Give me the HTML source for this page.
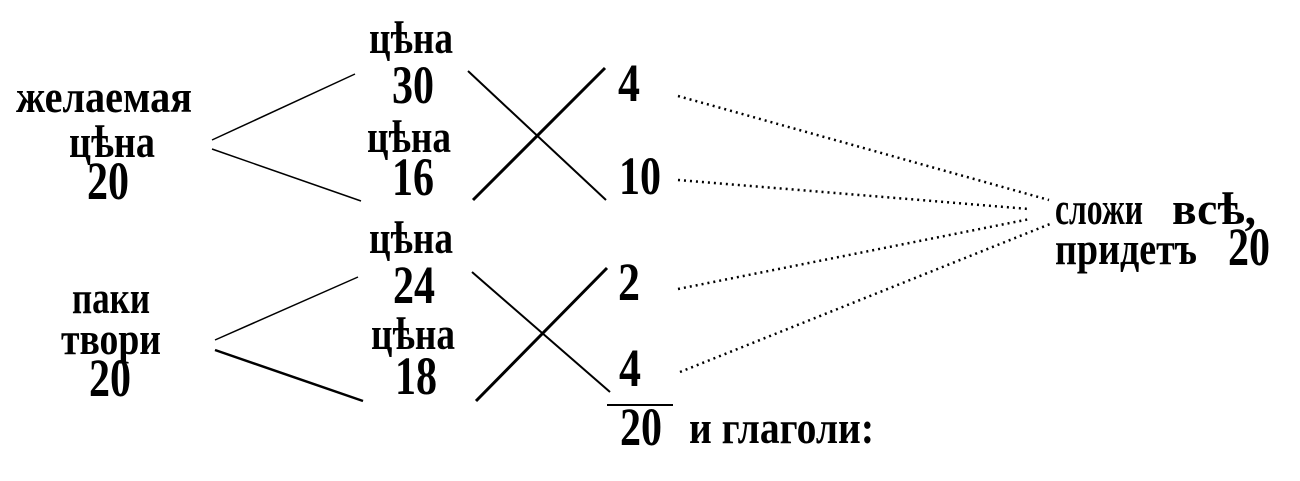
<!DOCTYPE html>
<html><head><meta charset="utf-8"><style>
html,body{margin:0;padding:0;background:#fff;width:1300px;height:481px;overflow:hidden}
text{font-family:"Liberation Serif","DejaVu Serif",serif;font-weight:bold;fill:#000}
</style></head><body>
<svg width="1300" height="481" viewBox="0 0 1300 481" xmlns="http://www.w3.org/2000/svg">
<g font-size="46" text-anchor="middle">
<text x="104" y="112" textLength="176" lengthAdjust="spacingAndGlyphs">желаемая</text>
<text x="112" y="157" textLength="86" lengthAdjust="spacingAndGlyphs">цѣна</text>
<text x="111" y="313" textLength="78" lengthAdjust="spacingAndGlyphs">паки</text>
<text x="111" y="354" textLength="100" lengthAdjust="spacingAndGlyphs">твори</text>
<text x="411" y="53" textLength="84" lengthAdjust="spacingAndGlyphs">цѣна</text>
<text x="409" y="152" textLength="84" lengthAdjust="spacingAndGlyphs">цѣна</text>
<text x="411" y="253" textLength="84" lengthAdjust="spacingAndGlyphs">цѣна</text>
<text x="413" y="349" textLength="84" lengthAdjust="spacingAndGlyphs">цѣна</text>
</g>
<g font-size="54" text-anchor="middle">
<text x="108" y="199" textLength="42" lengthAdjust="spacingAndGlyphs">20</text>
<text x="110" y="396" textLength="42" lengthAdjust="spacingAndGlyphs">20</text>
<text x="413" y="103" textLength="42" lengthAdjust="spacingAndGlyphs">30</text>
<text x="413" y="195" textLength="42" lengthAdjust="spacingAndGlyphs">16</text>
<text x="414" y="303" textLength="42" lengthAdjust="spacingAndGlyphs">24</text>
<text x="416" y="394" textLength="42" lengthAdjust="spacingAndGlyphs">18</text>
<text x="629" y="101" textLength="22" lengthAdjust="spacingAndGlyphs">4</text>
<text x="640" y="194" textLength="42" lengthAdjust="spacingAndGlyphs">10</text>
<text x="629" y="300" textLength="22" lengthAdjust="spacingAndGlyphs">2</text>
<text x="630" y="386" textLength="22" lengthAdjust="spacingAndGlyphs">4</text>
<text x="641" y="445" textLength="42" lengthAdjust="spacingAndGlyphs">20</text>
<text x="1249" y="265" textLength="42" lengthAdjust="spacingAndGlyphs">20</text>
</g>
<g font-size="46">
<text x="689" y="443" textLength="185" lengthAdjust="spacingAndGlyphs">и глаголи:</text>
<text x="1055" y="224" textLength="88" lengthAdjust="spacingAndGlyphs">сложи</text>
<text x="1172" y="224" textLength="84" lengthAdjust="spacingAndGlyphs">всѣ,</text>
<text x="1055" y="264" textLength="142" lengthAdjust="spacingAndGlyphs">придетъ</text>
</g>
<g stroke="#000" fill="none">
<line x1="212" y1="140" x2="355" y2="74" stroke-width="1.5"/>
<line x1="212" y1="149" x2="361" y2="201" stroke-width="1.5"/>
<line x1="215" y1="340" x2="358" y2="277" stroke-width="1.5"/>
<line x1="215" y1="350" x2="363" y2="401" stroke-width="2.5"/>
<line x1="468" y1="71" x2="606" y2="200" stroke-width="2"/>
<line x1="473" y1="200" x2="605" y2="68" stroke-width="3"/>
<line x1="472" y1="272" x2="610" y2="392" stroke-width="2"/>
<line x1="476" y1="401" x2="607" y2="268" stroke-width="3"/>
<line x1="607" y1="405" x2="673" y2="405" stroke-width="2"/>
<g stroke-width="2.5" stroke-dasharray="2 4">
<line x1="678" y1="96" x2="1049" y2="200"/>
<line x1="678" y1="180" x2="1029" y2="209"/>
<line x1="678" y1="289" x2="1030" y2="219"/>
<line x1="680" y1="372" x2="1050" y2="224"/>
</g>
</g>
</svg>
</body></html>
